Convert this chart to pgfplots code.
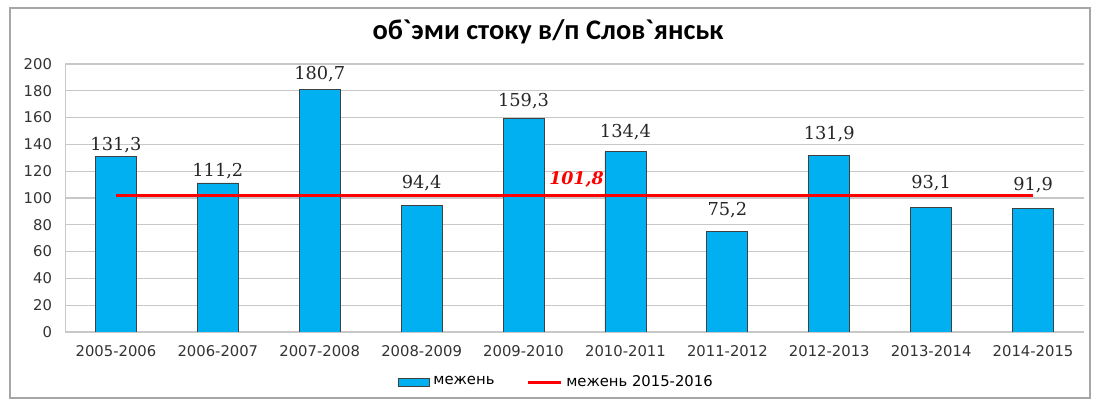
\documentclass[border=0pt]{standalone}
\usepackage{fontspec}
\setmainfont{DejaVu Sans}
\newfontfamily\titlefont{Carlito}
\newfontfamily\labelfont{DejaVu Serif}
\usepackage{pgfplots}
\usepackage{pgfplotstable}
\pgfplotsset{compat=1.18}
\definecolor{barblue}{HTML}{00B0F0}
\definecolor{gridgray}{HTML}{C8C8C8}

% x, value, label gap above the bar (pt)
\pgfplotstableread{
x y gap
0 131.3 1.5
1 111.2 2
2 180.7 4
3 94.4 7
4 159.3 4.5
5 134.4 6
6 75.2 6.5
7 131.9 6.5
8 93.1 8
9 91.9 8
}\mezhen

\begin{document}
\begin{tikzpicture}
\useasboundingbox (0,0) rectangle (549.5pt,202.5pt);
\draw[gray!70, line width=0.8pt] (5pt,3.5pt) rectangle (545pt,198.5pt);
\node[font=\titlefont\bfseries\fontsize{14.2}{16}\selectfont] at (274pt,186.5pt) {об`эми стоку в/п Слов`янськ};
\begin{axis}[
  at={(32.5pt,36.5pt)}, anchor=south west,
  scale only axis,
  width=509.5pt, height=134pt,
  xmin=-0.5, xmax=9.5,
  ymin=0, ymax=200,
  ytick={0,20,...,200},
  xtick={0,...,9},
  xticklabels={2005-2006,2006-2007,2007-2008,2008-2009,2009-2010,2010-2011,2011-2012,2012-2013,2013-2014,2014-2015},
  axis x line*=bottom, axis y line*=left,
  axis line style={gridgray, -},
  ymajorgrids, grid style={gridgray, line width=0.6pt},
  major tick length=0pt,
  tick label style={font=\fontsize{7.4}{9}\selectfont, text=black!80},
  /pgf/number format/assume math mode=true,
  xticklabel style={yshift=-3pt},
  yticklabel style={xshift=-3pt},
  legend style={
    at={(0.483,-0.187)}, anchor=center,
    draw=none, fill=none,
    legend columns=2,
    font=\fontsize{7.4}{9}\selectfont,
    /tikz/every even column/.append style={column sep=14pt},
  },
  legend cell align=left,
]
\addplot[ybar, bar width=20.5pt, fill=barblue, draw=black!75, line width=0.4pt,
  visualization depends on={\thisrow{gap} \as \labelgap},
  nodes near coords,
  every node near coord/.append style={font=\labelfont\fontsize{8.9}{10}\selectfont, text=black!85, inner sep=0pt, yshift=\labelgap pt,
    /pgf/number format/.cd, use comma, fixed, fixed zerofill, precision=1},
  area legend,
  legend image code/.code={\draw[fill=barblue, draw=black!75, line width=0.4pt] (0cm,-2pt) rectangle (15.5pt,2pt);}
] table[x=x, y=y] {\mezhen};
\addlegendentry{межень}
\addplot[red, line width=1.4pt, no markers,
  legend image code/.code={\draw[red, line width=1.4pt] (0cm,0cm) -- (16.5pt,0cm);}
] coordinates {(0,101.8) (9,101.8)};
\addlegendentry{межень 2015-2016}
\node[anchor=south, text=red, font=\labelfont\bfseries\itshape\fontsize{8.7}{10}\selectfont, inner sep=0pt, yshift=4pt, xshift=1pt]
  at (axis cs:4.5,101.8) {101,8};
\end{axis}
\end{tikzpicture}
\end{document}
